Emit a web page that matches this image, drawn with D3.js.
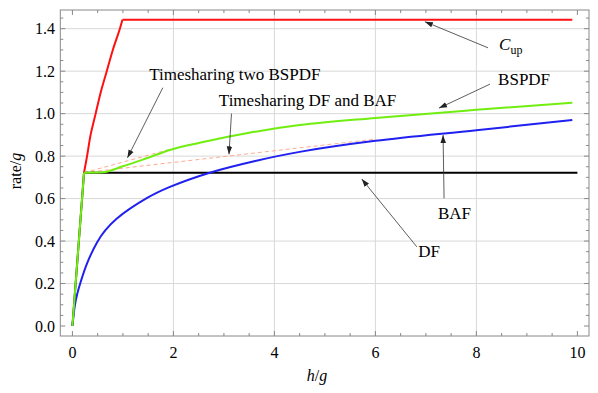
<!DOCTYPE html>
<html>
<head>
<meta charset="utf-8">
<script src="https://cdn.jsdelivr.net/npm/d3@7"></script>
<style>
body { margin: 0; background: #fff; }
text { font-family: "Liberation Serif", "Times New Roman", serif; fill: #000; }
</style>
</head>
<body>
<svg id="chart"></svg>
<script>
var width = 598,
    height = 393;

// curves (h/g , rate/g)
var cupX = [0, 0.23, 0.29, 0.36, 0.46, 0.56, 0.68, 0.8, 0.94, 0.99, 9.9];
var cupY = [0, 0.722, 0.8, 0.9, 1.0, 1.1, 1.2, 1.3, 1.4, 1.442, 1.442];

var dfX = [0, 0.05, 0.1, 0.16, 0.29, 0.49, 0.65, 0.875, 1.48, 1.93, 2.72, 3.6, 4.5, 6, 8, 9.9];
var dfY = [0, 0.1, 0.155, 0.205, 0.295, 0.395, 0.45, 0.505, 0.603, 0.655, 0.722, 0.776, 0.82, 0.872, 0.922, 0.97];

var bafX = [0, 0.23, 10];
var bafY = [0, 0.722, 0.722];

var bspdfX = [0, 0.23, 0.6, 1.0, 1.47, 1.93, 2.52, 3.5, 4.5, 6, 8, 9.9];
var bspdfY = [0, 0.722, 0.724, 0.752, 0.79, 0.829, 0.863, 0.91, 0.946, 0.98, 1.018, 1.051];

var tsBspdfX = [0.23, 1.93];
var tsBspdfY = [0.722, 0.832];
var tsDfBafX = [0.23, 6.0];
var tsDfBafY = [0.722, 0.88];

var xTicks = [0, 2, 4, 6, 8, 10];
var yTicks = [0, 0.2, 0.4, 0.6, 0.8, 1.0, 1.2, 1.4];

var x = d3.scaleLinear().domain([-0.24, 10.23]).range([60.3, 589]);
var y = d3.scaleLinear().domain([-0.047, 1.488]).range([336, 10]);

var svg = d3.select('#chart')
            .attr('width', width)
            .attr('height', height);

svg.append('defs').append('marker')
    .attr('id', 'arrow')
    .attr('viewBox', '0 0 10 10')
    .attr('refX', 10).attr('refY', 5)
    .attr('markerWidth', 8).attr('markerHeight', 8)
    .attr('markerUnits', 'userSpaceOnUse')
    .attr('orient', 'auto')
  .append('path')
    .attr('d', 'M0,1.5 L10,5 L0,8.5 Z')
    .attr('fill', '#222');

// grid
svg.append('g').selectAll('line')
    .data([2, 4, 6, 8])
    .enter().append('line')
    .attr('x1', d => x(d)).attr('x2', d => x(d))
    .attr('y1', y.range()[0]).attr('y2', y.range()[1])
    .attr('stroke', '#d8d8d8').attr('stroke-width', 1);
svg.append('g').selectAll('line')
    .data(yTicks.filter(d => d > 0))
    .enter().append('line')
    .attr('y1', d => y(d)).attr('y2', d => y(d))
    .attr('x1', x.range()[0]).attr('x2', x.range()[1])
    .attr('stroke', '#d8d8d8').attr('stroke-width', 1);

// frame with inward ticks on all sides
var minorX = d3.range(0, 10.01, 0.5);
var minorY = d3.range(0, 1.46, 0.05);
var frame = svg.append('g');
var fx0 = x.range()[0], fx1 = x.range()[1], fy0 = y.range()[0], fy1 = y.range()[1];
var isMajX = d => Math.abs(d % 2) < 1e-6;
var isMajY = d => Math.round(d * 100) % 20 === 0;

[[fy0, -1], [fy1, 1]].forEach(function (s) {
  frame.append('g').selectAll('line').data(minorX).enter().append('line')
      .attr('x1', d => x(d)).attr('x2', d => x(d))
      .attr('y1', s[0]).attr('y2', d => s[0] + s[1] * (isMajX(d) ? 5 : 3))
      .attr('stroke', '#888');
});
[[fx0, 1], [fx1, -1]].forEach(function (s) {
  frame.append('g').selectAll('line').data(minorY).enter().append('line')
      .attr('y1', d => y(d)).attr('y2', d => y(d))
      .attr('x1', s[0]).attr('x2', d => s[0] + s[1] * (isMajY(d) ? 5 : 3))
      .attr('stroke', '#888');
});
frame.append('rect')
    .attr('x', fx0).attr('y', fy1)
    .attr('width', fx1 - fx0).attr('height', fy0 - fy1)
    .attr('fill', 'none').attr('stroke', '#888').attr('stroke-width', 1);

// tick labels
svg.append('g').selectAll('text')
    .data(xTicks).enter().append('text')
    .attr('x', d => x(d)).attr('y', 357.5)
    .attr('text-anchor', 'middle')
    .style('font-size', '16px')
    .text(d => d);
svg.append('g').selectAll('text')
    .data(yTicks).enter().append('text')
    .attr('x', 55).attr('y', d => y(d) + 5.5)
    .attr('text-anchor', 'end')
    .style('font-size', '16px')
    .text(d => d.toFixed(1));

// axis labels
var yl = svg.append('text')
    .attr('transform', 'translate(21,171) rotate(-90)')
    .attr('text-anchor', 'middle')
    .style('font-size', '16px');
yl.append('tspan').text('rate/');
yl.append('tspan').style('font-style', 'italic').text('g');

var xl = svg.append('text')
    .attr('x', 317).attr('y', 381)
    .attr('text-anchor', 'middle')
    .style('font-size', '16px');
xl.append('tspan').style('font-style', 'italic').text('h');
xl.append('tspan').text('/');
xl.append('tspan').style('font-style', 'italic').text('g');

// curves
function pts(xs, ys) { return xs.map((v, i) => [v, ys[i]]); }
var smooth = d3.line().x(d => x(d[0])).y(d => y(d[1])).curve(d3.curveMonotoneX);
var spline = d3.line().x(d => x(d[0])).y(d => y(d[1])).curve(d3.curveCatmullRom.alpha(0.5));
var straight = d3.line().x(d => x(d[0])).y(d => y(d[1]));

var plot = svg.append('g');
function draw(data, gen, color, w, dash) {
  plot.append('path').datum(data)
      .attr('d', gen).attr('fill', 'none')
      .attr('stroke', color).attr('stroke-width', w)
      .attr('stroke-dasharray', dash || null)
      .attr('stroke-linejoin', 'round');
}

draw(pts(tsBspdfX, tsBspdfY), straight, '#ffab90', 1, '4,3');
draw(pts(tsDfBafX, tsDfBafY), straight, '#ffab90', 1, '4,3');
draw(pts(bafX, bafY), straight, '#000', 2);
draw(pts(dfX, dfY), spline, '#2020f0', 2);
draw(pts(cupX, cupY).slice(1, 10), spline, '#ff1010', 2);
draw(pts(cupX, cupY).slice(9), straight, '#ff1010', 2);
draw(pts(bspdfX, bspdfY).slice(0, 2), straight, '#70ee10', 2);
draw(pts(bspdfX, bspdfY).slice(1), smooth, '#70ee10', 2);

// annotations [label, textX, textY, fromX, fromY, toX, toY]
var notes = [
  ['Timesharing two BSPDF', 1.52, 1.158, 1.79, 1.122, 1.09, 0.792],
  ['Timesharing DF and BAF', 2.9, 1.036, 3.15, 1.0, 3.10, 0.808],
  ['BSPDF', 8.43, 1.135, 8.27, 1.139, 7.26, 1.026],
  ['BAF', 7.24, 0.504, 7.36, 0.601, 7.34, 0.899],
  ['DF', 6.85, 0.325, 6.82, 0.373, 5.73, 0.692]
];
var ann = svg.append('g');
ann.selectAll('line').data(notes).enter().append('line')
    .attr('x1', d => x(d[3])).attr('y1', d => y(d[4]))
    .attr('x2', d => x(d[5])).attr('y2', d => y(d[6]))
    .attr('stroke', '#333').attr('stroke-width', 0.8)
    .attr('marker-end', 'url(#arrow)');
ann.selectAll('text').data(notes).enter().append('text')
    .attr('x', d => x(d[1])).attr('y', d => y(d[2]))
    .style('font-size', '17px')
    .text(d => d[0]);

// C_up label
ann.append('line')
    .attr('x1', x(8.23)).attr('y1', y(1.31))
    .attr('x2', x(6.98)).attr('y2', y(1.433))
    .attr('stroke', '#333').attr('stroke-width', 0.8)
    .attr('marker-end', 'url(#arrow)');
var cl = ann.append('text')
    .attr('x', x(8.45)).attr('y', y(1.30))
    .style('font-size', '17px');
cl.append('tspan').style('font-style', 'italic').text('C');
cl.append('tspan').attr('dy', 4).style('font-size', '12px').text('up');
</script>
</body>
</html>
